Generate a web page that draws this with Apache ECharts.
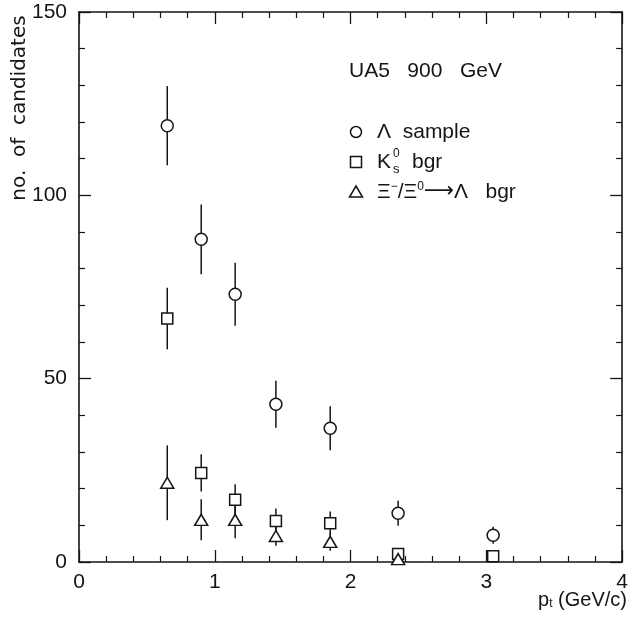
<!DOCTYPE html>
<html>
<head>
<meta charset="utf-8">
<script src="https://cdn.jsdelivr.net/npm/echarts@6/dist/echarts.min.js"></script>
<style>
  html, body { margin: 0; padding: 0; background: #ffffff; }
  #chart { width: 631px; height: 621px; }
</style>
</head>
<body>
<div id="chart"></div>
<script>
// Transverse-momentum bins (GeV/c)
const ptBins = [0.65, 0.90, 1.15, 1.45, 1.85, 2.35, 3.05];

// Lambda candidate sample
const lambdaCounts = [119, 88, 73, 43, 36.5, 13.3, 7.3];
const lambdaErr    = [10.8, 9.5, 8.6, 6.4, 6.0, 3.4, 2.3];

// K0s background
const ksCounts = [66.4, 24.3, 17.0, 11.2, 10.6, 2.2, 1.6];
const ksErr    = [8.4, 5.1, 4.2, 3.4, 3.2, 1.2, 1.0];

// Xi-/Xi0 -> Lambda background (no entry in the last bin)
const xiCounts = [21.6, 11.5, 11.5, 7.1, 5.5, 0.8];
const xiErr    = [10.2, 5.6, 5.0, 2.7, 2.4, 0.6];

// Axis scales
const xMin = 0, xMax = 4, xStep = 1;
const yMin = 0, yMax = 150, yStep = 50;

const INK = '#151515';
const FONT = 'Liberation Sans';
const WIDE = 'DejaVu Sans';

function points(xs, ys) { return ys.map((y, i) => [xs[i], y]); }
function bars(xs, ys, es) { return ys.map((y, i) => [xs[i], y - es[i], y + es[i]]); }

function renderErr(params, api) {
  const x = api.value(0);
  const lo = api.coord([x, api.value(1)]);
  const hi = api.coord([x, api.value(2)]);
  return {
    type: 'line',
    shape: { x1: lo[0], y1: lo[1], x2: hi[0], y2: hi[1] },
    style: { stroke: INK, lineWidth: 1.5 }
  };
}

function errSeries(name, ys, es) {
  return {
    name: name, type: 'custom', renderItem: renderErr,
    encode: { x: 0, y: [1, 2] },
    data: bars(ptBins, ys, es), z: 2, silent: true
  };
}

function markSeries(name, ys, symbol, size) {
  return {
    name: name, type: 'scatter', symbol: symbol, symbolSize: size,
    data: points(ptBins, ys), z: 3,
    itemStyle: { color: '#ffffff', borderColor: INK, borderWidth: 1.5, opacity: 1 }
  };
}

const mainAxisX = {
  type: 'value', min: xMin, max: xMax, interval: xStep,
  axisLine: { show: true, onZero: false, lineStyle: { color: INK, width: 1.6 } },
  axisTick: { show: true, inside: true, length: 12, lineStyle: { color: INK, width: 1.3 } },
  minorTick: { show: true, splitNumber: 5, length: 6, lineStyle: { color: INK, width: 1.2 } },
  splitLine: { show: false },
  axisLabel: { show: true, margin: 10, color: INK, fontSize: 21, fontFamily: FONT }
};
const mainAxisY = {
  type: 'value', min: yMin, max: yMax, interval: yStep,
  axisLine: { show: true, onZero: false, lineStyle: { color: INK, width: 1.6 } },
  axisTick: { show: true, inside: true, length: 12, lineStyle: { color: INK, width: 1.3 } },
  minorTick: { show: true, splitNumber: 5, length: 6, lineStyle: { color: INK, width: 1.2 } },
  splitLine: { show: false },
  axisLabel: { show: true, margin: 12, color: INK, fontSize: 21, fontFamily: FONT }
};
function mirror(axis, pos) {
  const a = JSON.parse(JSON.stringify(axis));
  a.position = pos;
  a.axisLabel.show = false;
  return a;
}

const xAxes = [Object.assign({ position: 'bottom' }, mainAxisX), mirror(mainAxisX, 'top')];
const yAxes = [Object.assign({ position: 'left' }, mainAxisY), mirror(mainAxisY, 'right')];

const chart = echarts.init(document.getElementById('chart'), null, { renderer: 'canvas' });

const textBase = { fill: INK, fontFamily: FONT, fontSize: 21 };

chart.setOption({
  backgroundColor: '#ffffff',
  animation: false,
  grid: { left: 79, right: 7, top: 12, bottom: 59, containLabel: false },
  xAxis: xAxes,
  yAxis: yAxes,
  series: [
    errSeries('Λ sample', lambdaCounts, lambdaErr),
    errSeries('K0s bgr', ksCounts, ksErr),
    errSeries('Ξ bgr', xiCounts, xiErr),
    markSeries('Λ sample', lambdaCounts, 'circle', 12),
    markSeries('K0s bgr', ksCounts, 'rect', 11),
    markSeries('Ξ bgr', xiCounts, 'triangle', [13, 11])
  ],
  graphic: [
    // axis titles
    {
      type: 'text', x: 20, y: 108, rotation: Math.PI / 2,
      style: Object.assign({}, textBase, { text: 'no.  of  candidates', fontFamily: WIDE, fontSize: 20, align: 'center', verticalAlign: 'middle' })
    },
    {
      type: 'text', x: 627, y: 600,
      style: Object.assign({}, textBase, {
        text: '{p|p}{t|t}{n| (GeV/c)}', align: 'right', verticalAlign: 'middle',
        rich: {
          p: { fontSize: 20, fontFamily: FONT, fill: INK },
          t: { fontSize: 12, fontFamily: FONT, fill: INK, padding: [8, 0, 0, 0] },
          n: { fontSize: 20, fontFamily: FONT, fill: INK }
        }
      })
    },
    // title
    {
      type: 'text', x: 349, y: 71,
      style: Object.assign({}, textBase, { text: 'UA5   900   GeV', verticalAlign: 'middle' })
    },
    // key
    { type: 'circle', shape: { cx: 356, cy: 132, r: 5.5 }, style: { fill: '#fff', stroke: INK, lineWidth: 1.5 } },
    { type: 'text', x: 377, y: 132, style: Object.assign({}, textBase, { text: 'Λ  sample', verticalAlign: 'middle' }) },
    { type: 'rect', shape: { x: 350.5, y: 156.5, width: 11, height: 11 }, style: { fill: '#fff', stroke: INK, lineWidth: 1.5 } },
    { type: 'text', x: 377, y: 162, style: Object.assign({}, textBase, { text: 'K', verticalAlign: 'middle' }) },
    { type: 'text', x: 393, y: 154, style: Object.assign({}, textBase, { text: '0', fontSize: 12, verticalAlign: 'middle' }) },
    { type: 'text', x: 393, y: 169, style: Object.assign({}, textBase, { text: 's', fontSize: 13, verticalAlign: 'middle' }) },
    { type: 'text', x: 412, y: 162, style: Object.assign({}, textBase, { text: 'bgr', verticalAlign: 'middle' }) },
    { type: 'polygon', shape: { points: [[356, 186], [362.5, 197], [349.5, 197]] }, style: { fill: '#fff', stroke: INK, lineWidth: 1.5 } },
    {
      type: 'text', x: 377, y: 192,
      style: Object.assign({}, textBase, {
        text: '{n|Ξ}{s|−}{n|/Ξ}{s|0}{a|⟶}{n|Λ   bgr}', verticalAlign: 'middle',
        rich: {
          n: { fontSize: 21, fontFamily: FONT, fill: INK },
          a: { fontSize: 21, fontFamily: WIDE, fill: INK },
          s: { fontSize: 12, fontFamily: FONT, fill: INK, padding: [0, 0, 10, 0] }
        }
      })
    }
  ]
});
</script>
</body>
</html>
